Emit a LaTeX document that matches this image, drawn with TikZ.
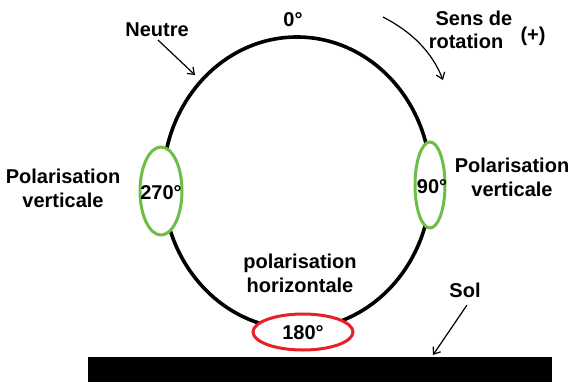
\documentclass[tikz,border=0pt]{standalone}
\usepackage{fontspec}
\setmainfont{Liberation Sans}
\usetikzlibrary{shapes.geometric,arrows.meta}
\definecolor{pgreen}{RGB}{108,190,70}
\definecolor{pred}{RGB}{232,32,38}
\tikzset{
  lbl/.style={font=\bfseries\fontsize{20}{24}\selectfont, inner sep=0pt, align=center},
  ring/.style={draw=black, line width=3.6pt, ellipse, inner sep=0pt},
  greenring/.style={draw=pgreen, line width=3pt, fill=white, ellipse, inner sep=0pt},
  redring/.style={draw=pred, line width=3pt, fill=white, ellipse, inner sep=0pt},
  thinarrow/.style={line width=1.2pt, -{Straight Barb[length=6pt,width=9pt]}}
}
\begin{document}
\begin{tikzpicture}[x=1pt,y=-1pt]
\useasboundingbox (0,0) rectangle (574,381);
% main circle
\node[ring, minimum width=268pt, minimum height=292pt] (main) at (297,183) {};
% ground
\node[fill=black, draw=none, inner sep=0pt, minimum width=464pt, minimum height=25pt, anchor=north west] (ground) at (88,357) {};
% polarisation ellipses
\node[greenring, minimum width=42pt, minimum height=88pt] (left) at (161,191) {};
\node[greenring, minimum width=30pt, minimum height=86pt] (right) at (430,185) {};
\node[redring, minimum width=100pt, minimum height=36pt] (bottom) at (303,332) {};
\node[lbl] (t270) at (161,193) {270°};
\node[lbl] (t90) at (432,187) {90°};
\node[lbl] (t180) at (303,333) {180°};
% labels
\node[lbl] (zero) at (293,20) {0°};
\node[lbl] (neutre) at (157,30) {Neutre};
\node[lbl] (sens) at (474,18) {Sens de};
\node[lbl] (rot) at (466,41) {rotation};
\node[lbl] (plus) at (533,36) {(+)};
\node[lbl] (polL) at (63,188) {Polarisation\\verticale};
\node[lbl] (polR) at (512,177) {Polarisation\\verticale};
\node[lbl] (polH) at (300,273) {polarisation\\horizontale};
\node[lbl] (sol) at (465,290) {Sol};
% arrows
\coordinate (nstart) at (158,40);
\coordinate (nend) at (195,75);
\draw[thinarrow] (nstart) -- (nend);
\coordinate (rstart) at (383,17);
\coordinate (rend) at (443,80);
\draw[thinarrow] (rstart) .. controls (412,32) and (432,52) .. (rend);
\coordinate (sstart) at (467,305);
\coordinate (send) at (433,355);
\draw[thinarrow] (sstart) -- (send);
\end{tikzpicture}
\end{document}
